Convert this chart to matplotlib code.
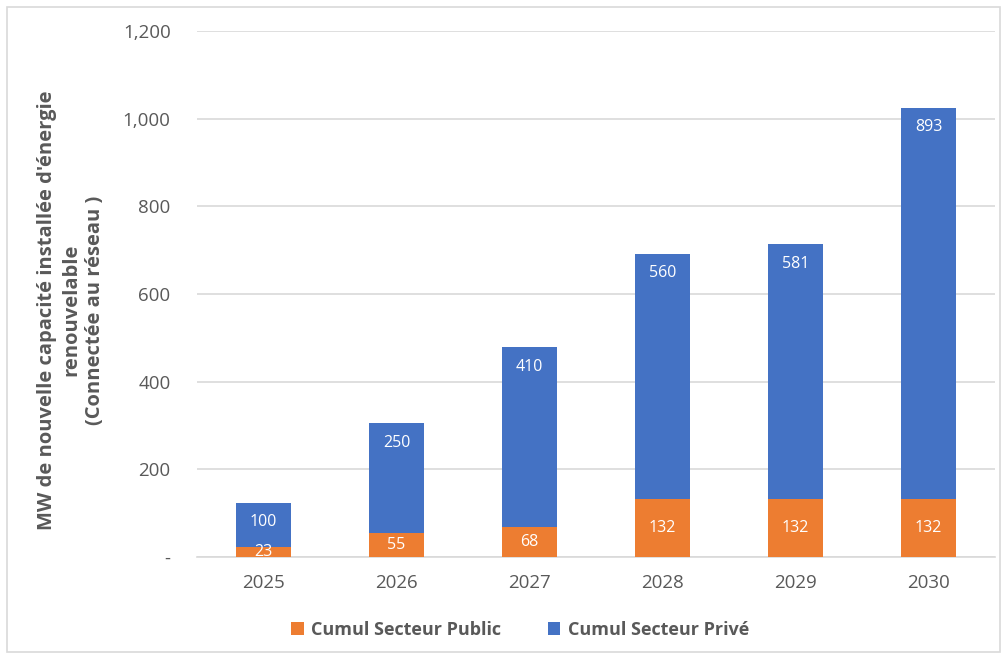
import matplotlib
matplotlib.use("Agg")
import matplotlib.pyplot as plt
from matplotlib.ticker import FuncFormatter
from matplotlib.patches import Rectangle

years = ["2025", "2026", "2027", "2028", "2029", "2030"]
public = [23, 55, 68, 132, 132, 132]
private = [100, 250, 410, 560, 581, 893]
series_names = ["Cumul Secteur Public", "Cumul Secteur Privé"]
ylabel = "MW de nouvelle capacité installée d'énergie\nrenouvelable\n(Connectée au réseau )"

plt.rcParams['font.family'] = ['Open Sans', 'DejaVu Sans']
GRAY = "#595959"
ORANGE = "#ED7D31"
BLUE = "#4472C4"

fig = plt.figure(figsize=(10.04, 6.59), dpi=100)
ax = fig.add_axes([197/1004, 1 - 557/659, 798/1004, 526/659])

x = range(len(years))
b1 = ax.bar(x, public, width=0.41, color=ORANGE, label=series_names[0], zorder=3)
b2 = ax.bar(x, private, width=0.41, bottom=public, color=BLUE, label=series_names[1], zorder=3)

for rects, vals, bots in ((b1, public, [0]*6), (b2, private, public)):
    for r, v, b in zip(rects, vals, bots):
        if rects is b2:
            y = b + v - 44
        else:
            y = b + v / 2
        ax.text(r.get_x() + r.get_width()/2, y, f"{v}", ha="center", va="center",
                color="white", fontsize=11.5, zorder=4)

ax.set_xlim(-0.5, 5.5)
ax.set_ylim(0, 1200)
ax.set_yticks(range(0, 1201, 200))
ax.yaxis.set_major_formatter(FuncFormatter(lambda v, p: "-" if v == 0 else f"{int(v):,}"))
ax.set_xticks(list(x))
ax.set_xticklabels(years)
ax.grid(axis="y", color="#D9D9D9", linewidth=1.2, zorder=0)
ax.set_axisbelow(True)
for s in ["top", "right", "left"]:
    ax.spines[s].set_visible(False)
ax.spines["bottom"].set_color("#D9D9D9")
ax.spines["bottom"].set_linewidth(1.2)
ax.tick_params(axis="both", length=0, colors=GRAY, labelsize=13.5)
ax.tick_params(axis="y", pad=19)
ax.tick_params(axis="x", pad=12)

fig.text(71/1004, 1 - 310/659, ylabel, rotation=90, ha="center", va="center",
         fontsize=14.5, fontweight="bold", color=GRAY, linespacing=1.25,
         multialignment="center")

leg = fig.legend(handles=[b1, b2], loc="center", bbox_to_anchor=(520/1004, 1 - 630/659),
                 ncol=2, frameon=False, fontsize=13, handlelength=0.7, handleheight=0.7,
                 columnspacing=2.6, handletextpad=0.4)
for t in leg.get_texts():
    t.set_color(GRAY)
    t.set_fontweight("bold")

fig.patches.append(Rectangle((7/1004, 7/659), 993/1004, 645/659, transform=fig.transFigure,
                             fill=False, edgecolor="#D9D9D9", linewidth=1.2))

fig.savefig("out.png", dpi=100)
